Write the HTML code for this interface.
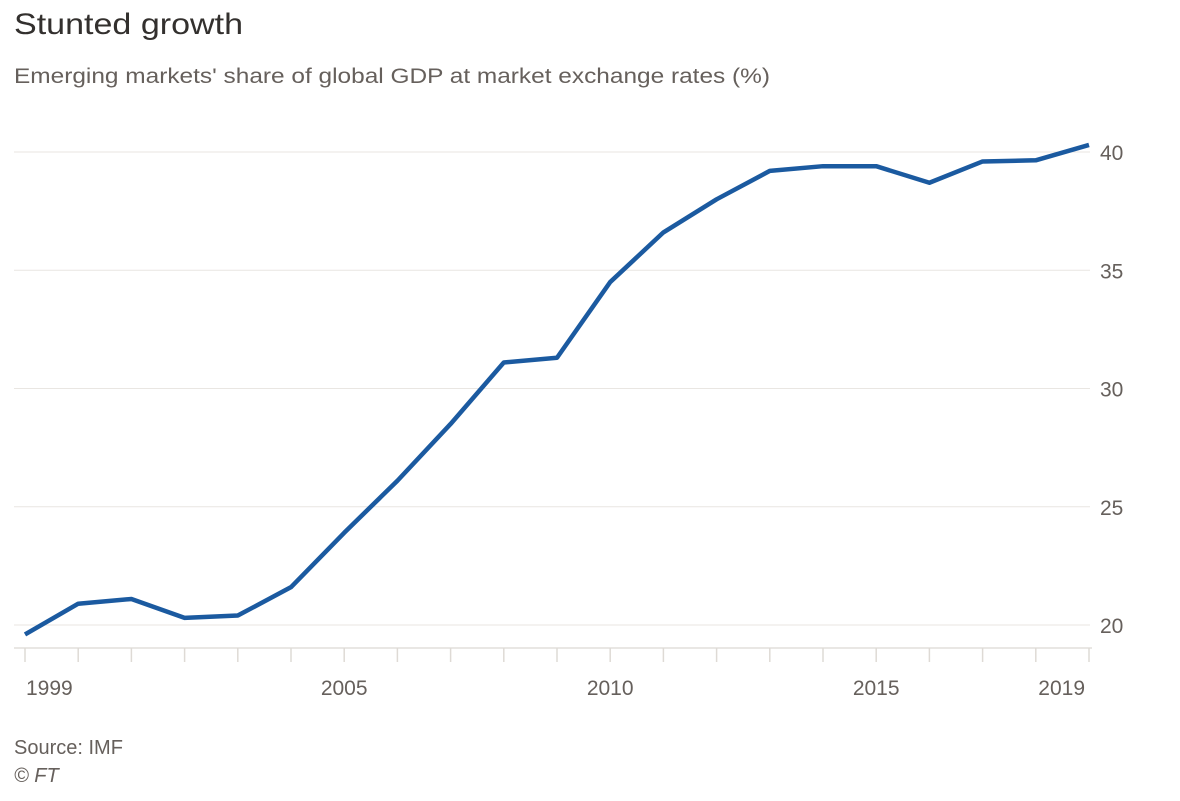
<!DOCTYPE html>
<html><head><meta charset="utf-8"><style>
body{margin:0;background:#fff;width:1180px;height:796px;overflow:hidden;font-family:"Liberation Sans",sans-serif}
</style></head><body>
<svg width="1180" height="796">
<text x="14" y="34" font-size="30" fill="#33302e" textLength="229" lengthAdjust="spacingAndGlyphs">Stunted growth</text>
<text x="14" y="83" font-size="21" fill="#66605c" textLength="756" lengthAdjust="spacingAndGlyphs">Emerging markets' share of global GDP at market exchange rates (%)</text>
<g id="grid"></g><g id="xaxis"></g>
<path id="line" fill="none" stroke="#1b5aa0" stroke-width="4.5" stroke-linejoin="round"/>
<text x="14" y="754" font-size="20" fill="#66605c">Source: IMF</text>
<text x="14" y="782" font-size="20" font-style="italic" fill="#66605c">© FT</text>
</svg>
<script>
const years=[1999,2000,2001,2002,2003,2004,2005,2006,2007,2008,2009,2010,2011,2012,2013,2014,2015,2016,2017,2018,2019];
const values=[19.6,20.9,21.1,20.3,20.4,21.6,23.9,26.1,28.5,31.1,31.3,34.5,36.6,38.0,39.2,39.4,39.4,38.7,39.6,39.65,40.3];
const yTicks=[20,25,30,35,40];
const xLabels=[1999,2005,2010,2015,2019];
const NS="http://www.w3.org/2000/svg";
const x=v=>25+(v-1999)*53.2;
const y=v=>625-(v-20)*23.65;
const grid=document.getElementById('grid'),xa=document.getElementById('xaxis');
function mk(tag,attrs,parent){const e=document.createElementNS(NS,tag);for(const k in attrs)e.setAttribute(k,attrs[k]);parent.appendChild(e);return e;}
yTicks.forEach(t=>{
 const l=mk('line',{x1:14,x2:1090,y1:y(t),y2:y(t),stroke:'#e9e6e2','stroke-width':1},grid);
 
 
 const tx=mk('text',{x:1100,y:y(t)+8,'font-size':21,fill:'#66605c'},grid);
 tx.textContent=t;
 
 
});
const base=mk('line',{x1:14,x2:1092,y1:648,y2:648,stroke:'#e2dfdb','stroke-width':1.5},xa);


years.forEach(yr=>{
 const t=mk('line',{x1:x(yr),x2:x(yr),y1:648,y2:662,stroke:'#dedad5','stroke-width':1.5},xa);
 
 
});
xLabels.forEach((yr,i)=>{
 const anchor=i===0?'start':(i===xLabels.length-1?'end':'middle');
 const t=mk('text',{x:x(yr)+(i===0?1:0)+(i===xLabels.length-1?-4:0),y:695,'font-size':21,fill:'#66605c','text-anchor':anchor},xa);
 t.textContent=yr;
 
 
});
document.getElementById('line').setAttribute('d',years.map((yr,i)=>(i?'L':'M')+x(yr)+' '+y(values[i])).join(' '));
</script>
</body></html>
